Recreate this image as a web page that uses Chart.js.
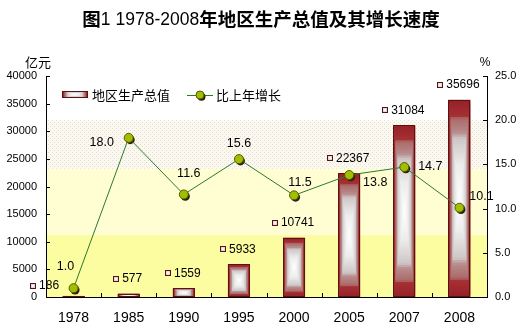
<!DOCTYPE html>
<html>
<head>
<meta charset="utf-8">
<script src="https://cdn.jsdelivr.net/npm/chart.js@4/dist/chart.umd.min.js"></script>
<style>
  html, body { margin: 0; padding: 0; background: #fff; }
  #wrap { width: 524px; height: 333px; position: relative; }
</style>
</head>
<body>
<div id="wrap"><canvas id="c" width="524" height="333"></canvas></div>
<script>
// ---- chart data ----
const titleParts = ['图', '1 1978-2008', '年地区生产总值及其增长速度'];
const leftUnit = '亿元';
const rightUnit = '%';
const seriesNames = ['地区生产总值', '比上年增长'];
const years = ['1978', '1985', '1990', '1995', '2000', '2005', '2007', '2008'];
const gdp = [186, 577, 1559, 5933, 10741, 22367, 31084, 35696];        // 亿元
const growth = [1.0, 18.0, 11.6, 15.6, 11.5, 13.8, 14.7, 10.1];          // %
const gdpTicks = [0, 5000, 10000, 15000, 20000, 25000, 30000, 35000, 40000];
const growthTicks = [0, 5, 10, 15, 20, 25];

const NUM_FONT = '"Liberation Sans", Arial, sans-serif';
const CJK_FONT = '"Noto Sans CJK SC", sans-serif';
const LINE_GREEN = '#2d7a2d';

// colour of the centre-out rectangular fill, by normalised distance from centre
const gradStops = [
  [0.00, [255, 255, 255]],
  [0.35, [236, 236, 236]],
  [0.62, [206, 198, 198]],
  [0.68, [184, 140, 140]],
  [0.82, [172, 106, 106]],
  [0.85, [166, 48, 52]],
  [1.00, [150, 34, 40]]
];
function gradColor(s) {
  for (let i = 1; i < gradStops.length; i++) {
    const [s1, c1] = gradStops[i];
    const [s0, c0] = gradStops[i - 1];
    if (s <= s1) {
      const f = (s - s0) / (s1 - s0);
      const c = c0.map((v, k) => Math.round(v + (c1[k] - v) * f));
      return `rgb(${c[0]},${c[1]},${c[2]})`;
    }
  }
  const c = gradStops[gradStops.length - 1][1];
  return `rgb(${c[0]},${c[1]},${c[2]})`;
}
function drawRectGradient(ctx, left, top, w, h) {
  const cx = left + w / 2, cy = top + h / 2;
  const N = 40;
  for (let k = 0; k < N; k++) {
    const s = 1 - k / N;
    ctx.fillStyle = gradColor(s);
    ctx.fillRect(cx - s * w / 2, cy - s * h / 2, s * w, s * h);
  }
  ctx.strokeStyle = '#5a1212';
  ctx.lineWidth = 1;
  ctx.strokeRect(Math.round(left) + 0.5, Math.round(top) + 0.5,
                 Math.max(Math.round(w) - 1, 0), Math.max(Math.round(h) - 1, 0));
}
function drawMarker(ctx, x, y, r) {
  ctx.beginPath();
  ctx.arc(x + 1.5, y + 1.8, r, 0, Math.PI * 2);
  ctx.fillStyle = '#2b2108';
  ctx.fill();
  ctx.beginPath();
  ctx.arc(x, y, r, 0, Math.PI * 2);
  ctx.fillStyle = '#9fc000';
  ctx.fill();
  ctx.strokeStyle = '#5b5b00';
  ctx.lineWidth = 1;
  ctx.stroke();
}

// dotted fill for the upper band of the plot background
function dotPattern(ctx) {
  const p = document.createElement('canvas');
  p.width = 4; p.height = 4;
  const pc = p.getContext('2d');
  pc.fillStyle = '#fbf8f1';
  pc.fillRect(0, 0, 4, 4);
  pc.fillStyle = '#e8dccb';
  pc.fillRect(0, 0, 1, 1);
  pc.fillRect(2, 2, 1, 1);
  return ctx.createPattern(p, 'repeat');
}

const decor = {
  id: 'decor',
  beforeDraw(chart) {
    const { ctx, chartArea: a } = chart;
    const y1 = chart.scales.y1;
    const bands = [
      [25, 20, '#ffffff'],
      [20, 14.5, 'dots'],
      [14.5, 7, '#fefed2'],
      [7, 0, '#fcfca0']
    ];
    ctx.save();
    bands.forEach(([hi, lo, col]) => {
      const top = y1.getPixelForValue(hi), bot = y1.getPixelForValue(lo);
      ctx.fillStyle = col === 'dots' ? dotPattern(ctx) : col;
      ctx.fillRect(a.left, top, a.right - a.left, bot - top);
    });
    ctx.restore();
  },
  afterDatasetDraw(chart, args) {
    const { ctx } = chart;
    if (args.index === 0) {
      ctx.save();
      args.meta.data.forEach(el => {
        const p = el.getProps(['x', 'y', 'base', 'width'], true);
        const h = p.base - p.y;
        drawRectGradient(ctx, p.x - p.width / 2, p.y, p.width, Math.max(h, 1));
      });
      ctx.restore();
    }
  },
  beforeDatasetDraw(chart, args) {
    const { ctx } = chart;
    if (args.index === 1) {
      ctx.save();
      args.meta.data.forEach(pt => {
        ctx.beginPath();
        ctx.arc(pt.x + 1.5, pt.y + 1.8, 4.5, 0, Math.PI * 2);
        ctx.fillStyle = '#2b2108';
        ctx.fill();
      });
      ctx.restore();
    }
  },
  afterDraw(chart) {
    const { ctx, chartArea: a, scales } = chart;
    ctx.save();

    // inward tick marks
    ctx.strokeStyle = '#000';
    ctx.lineWidth = 1;
    ctx.beginPath();
    gdpTicks.forEach(v => {
      const y = Math.round(scales.y.getPixelForValue(v)) + 0.5;
      ctx.moveTo(a.left, y); ctx.lineTo(a.left + 4, y);
    });
    growthTicks.forEach(v => {
      const y = Math.round(scales.y1.getPixelForValue(v)) + 0.5;
      ctx.moveTo(a.right - 4, y); ctx.lineTo(a.right, y);
    });
    for (let i = 0; i < years.length - 1; i++) {
      const x = Math.round((scales.x.getPixelForValue(i) + scales.x.getPixelForValue(i + 1)) / 2) + 0.5;
      ctx.moveTo(x, a.bottom); ctx.lineTo(x, a.bottom - 4);
    }
    ctx.stroke();

    // title: bold CJK with regular-weight figures, centred as a whole
    ctx.fillStyle = '#000';
    ctx.textBaseline = 'middle';
    ctx.textAlign = 'left';
    const titleFonts = ['bold 18.5px ' + CJK_FONT, '17.5px ' + NUM_FONT, 'bold 18.5px ' + CJK_FONT];
    const widths = titleParts.map((t, i) => { ctx.font = titleFonts[i]; return ctx.measureText(t).width; });
    let tx = 261 - widths.reduce((s, w) => s + w, 0) / 2;
    titleParts.forEach((t, i) => {
      ctx.font = titleFonts[i];
      ctx.fillText(t, tx, i === 1 ? 20 : 19);
      tx += widths[i];
    });

    ctx.font = '13px ' + CJK_FONT;
    ctx.fillText(leftUnit, 25, 62);
    ctx.textAlign = 'center';
    ctx.font = '12px ' + NUM_FONT;
    ctx.fillText(rightUnit, 485, 63);

    // legend
    drawRectGradient(ctx, 62, 91, 26, 7);
    ctx.fillStyle = '#000';
    ctx.textAlign = 'left';
    ctx.font = '13px ' + CJK_FONT;
    ctx.fillText(seriesNames[0], 92, 95);
    ctx.beginPath();
    ctx.moveTo(187, 95.5); ctx.lineTo(213, 95.5);
    ctx.strokeStyle = LINE_GREEN;
    ctx.stroke();
    drawMarker(ctx, 200, 95, 4);
    ctx.fillStyle = '#000';
    ctx.fillText(seriesNames[1], 216, 95);

    // bar value labels with a small key box
    const barMeta = chart.getDatasetMeta(0);
    ctx.font = '12px ' + NUM_FONT;
    barMeta.data.forEach((el, i) => {
      const txt = String(gdp[i]);
      const w = ctx.measureText(txt).width;
      const group = 6 + 3 + w;
      const cx = el.x + (i === 0 ? -29 : -1);
      const cy = el.y - (i === 0 ? 10 : 15);
      const start = cx - group / 2;
      drawRectGradient(ctx, Math.round(start), Math.round(cy - 3), 6, 6);
      ctx.fillStyle = '#000';
      ctx.textAlign = 'left';
      ctx.fillText(txt, start + 9, cy);
    });

    // growth value labels
    const lineMeta = chart.getDatasetMeta(1);
    const offs = [[-8, -22], [-27, 5], [5, -21], [0, -16], [6, -13], [26, 8], [26, -1], [22, -11]];
    ctx.font = '12.5px ' + NUM_FONT;
    ctx.textAlign = 'center';
    lineMeta.data.forEach((pt, i) => {
      ctx.fillText(growth[i].toFixed(1), pt.x + offs[i][0], pt.y + offs[i][1]);
    });
    ctx.restore();
  }
};

new Chart(document.getElementById('c'), {
  data: {
    labels: years,
    datasets: [
      {
        type: 'bar',
        label: seriesNames[0],
        data: gdp,
        yAxisID: 'y',
        backgroundColor: 'rgba(0,0,0,0)',
        borderWidth: 0,
        barPercentage: 0.4,
        categoryPercentage: 1,
        order: 2
      },
      {
        type: 'line',
        label: seriesNames[1],
        data: growth,
        yAxisID: 'y1',
        borderColor: LINE_GREEN,
        borderWidth: 1,
        tension: 0,
        pointRadius: 4.5,
        pointBackgroundColor: '#9fc000',
        pointBorderColor: '#5b5b00',
        pointBorderWidth: 1,
        order: 1
      }
    ]
  },
  options: {
    responsive: false,
    devicePixelRatio: 1,
    animation: false,
    layout: { padding: { top: 76, left: 0, right: 0, bottom: 0 } },
    plugins: { legend: { display: false }, tooltip: { enabled: false } },
    scales: {
      x: {
        type: 'category',
        offset: true,
        grid: { display: false, drawTicks: false },
        border: { display: true, color: '#000', width: 1 },
        ticks: { color: '#000', font: { family: NUM_FONT, size: 14 }, padding: 13, maxRotation: 0 },
        afterFit(s) { s.height = 36; }
      },
      y: {
        position: 'left',
        min: 0, max: 40000,
        afterBuildTicks(s) { s.ticks = gdpTicks.map(v => ({ value: v })); },
        grid: { display: false, drawTicks: false },
        border: { display: true, color: '#000', width: 1 },
        ticks: { color: '#000', font: { family: NUM_FONT, size: 11 }, padding: 9,
                 callback: v => String(v) },
        afterFit(s) { s.width = 46; }
      },
      y1: {
        position: 'right',
        min: 0, max: 25,
        afterBuildTicks(s) { s.ticks = growthTicks.map(v => ({ value: v })); },
        grid: { display: false, drawTicks: false },
        border: { display: true, color: '#000', width: 1 },
        ticks: { color: '#000', font: { family: NUM_FONT, size: 11 }, padding: 8,
                 callback: v => Number(v).toFixed(1) },
        afterFit(s) { s.width = 37; }
      }
    }
  },
  plugins: [decor]
});
</script>
</body>
</html>
